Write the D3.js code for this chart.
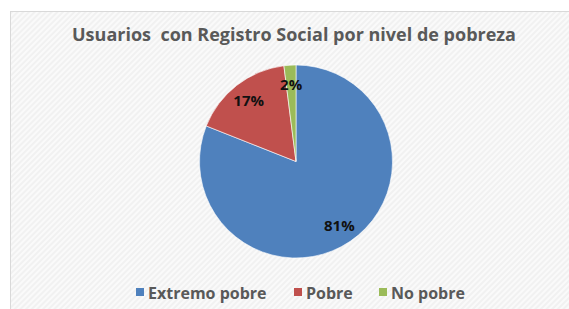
<!DOCTYPE html>
<html><head><meta charset="utf-8">
<script src="https://cdn.jsdelivr.net/npm/d3@7"></script>
<style>html,body{margin:0;padding:0;background:#fff;}svg{display:block;}</style>
</head><body>
<svg id="c" width="569" height="309"></svg>
<script>
const title = "Usuarios  con Registro Social por nivel de pobreza";
const categories = ["Extremo pobre", "Pobre", "No pobre"];
const values = [81, 17, 2];
const labels = ["81%", "17%", "2%"];
const colors = ["#4f81bd", "#c0504d", "#9bbb59"];

const font = "'Open Sans', Lato, sans-serif";
const svg = d3.select("#c");
const defs = svg.append("defs");
const pat = defs.append("pattern").attr("id","diag").attr("patternUnits","userSpaceOnUse")
  .attr("width",4).attr("height",4).attr("patternTransform","rotate(45)");
pat.append("rect").attr("width",4).attr("height",4).attr("fill","#fafafa");
pat.append("rect").attr("width",2).attr("height",4).attr("fill","#f1f1f1");

svg.append("rect").attr("x",10.5).attr("y",11.5).attr("width",570).attr("height",310)
  .attr("fill","url(#diag)").attr("stroke","#d9d9d9");

svg.append("text").attr("x",294).attr("y",41).attr("text-anchor","middle")
  .attr("font-family",font).attr("font-weight","bold")
  .attr("font-size",17).attr("fill","#595959").attr("xml:space","preserve")
  .attr("textLength",444).attr("lengthAdjust","spacingAndGlyphs").text(title);

const cx = 296, cy = 161.5, r = 96.5;
const pie = d3.pie().sort(null).value(d => d)(values);
const arc = d3.arc().innerRadius(0).outerRadius(r);
const g = svg.append("g").attr("transform",`translate(${cx},${cy})`);
g.selectAll("path").data(pie).join("path").attr("d",arc)
  .attr("fill",(d,i)=>colors[i]).attr("stroke","#ffffff").attr("stroke-width",0.6);

const la = d3.arc().innerRadius(r*0.8).outerRadius(r*0.8);
g.selectAll("text.lbl").data(pie).join("text").attr("class","lbl")
  .attr("x",d=>la.centroid(d)[0]).attr("y",d=>la.centroid(d)[1])
  .attr("dy","0.36em").attr("text-anchor","middle")
  .attr("font-family",font).attr("font-weight","bold")
  .attr("font-size",15).attr("fill","#111").text((d,i)=>labels[i]);

const legendX = [136, 294, 379];
const lg = svg.append("g");
categories.forEach((c,i)=>{
  lg.append("rect").attr("x",legendX[i]).attr("y",288).attr("width",8).attr("height",8).attr("fill",colors[i]);
  lg.append("text").attr("x",legendX[i]+12).attr("y",298.5)
    .attr("font-family",font).attr("font-weight","bold")
    .attr("font-size",16).attr("fill","#595959").text(c);
});
</script>
</body></html>
